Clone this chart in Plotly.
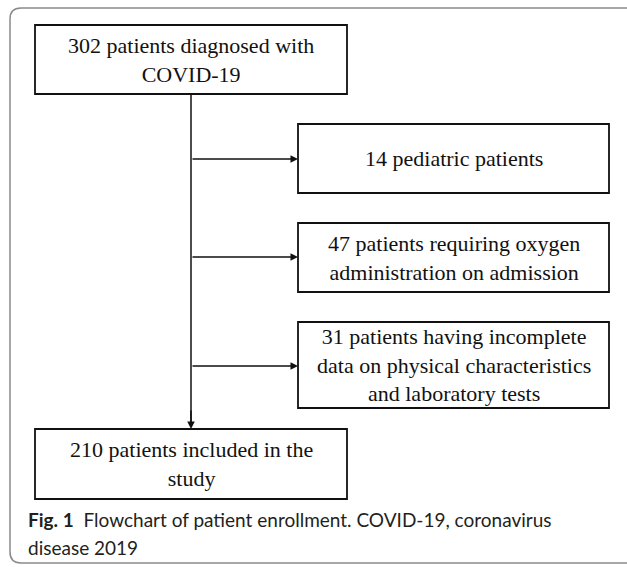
import plotly.graph_objects as go

# ---- data ----
counts = [302, 14, 47, 31, 210]
box_labels = [
    "302 patients diagnosed with<br>COVID-19",
    "14 pediatric patients",
    "47 patients requiring oxygen<br>administration on admission",
    "31 patients having incomplete<br>data on physical characteristics<br>and laboratory tests",
    "210 patients included in the<br>study",
]
caption_bold = "Fig. 1"
caption_lines = ["Flowchart of patient enrollment. COVID-19, coronavirus", "disease 2019"]

# ---- layout geometry (pixel space) ----
W, H = 627, 567
boxes = [  # x0, x1, y0, y1
    (35, 347, 25, 94),
    (298, 609, 124, 193),
    (298, 609, 223, 292),
    (298, 609, 322, 408),
    (35, 347, 429, 499),
]
spine_x = 191
arrow_y = [159, 257, 366]
caption_y = [519, 547]

fig = go.Figure()
fig.add_trace(go.Scatter(x=[0, W], y=[0, H], mode="markers",
                         marker=dict(opacity=0), hoverinfo="skip", showlegend=False))

shapes = []
# outer rounded frame
r = 11
fx0, fy0, fx1, fy1 = 10, 8, 640, 563
path = (f"M {fx0+r},{fy0} L {fx1},{fy0} L {fx1},{fy1} L {fx0+r},{fy1} "
        f"Q {fx0},{fy1} {fx0},{fy1-r} L {fx0},{fy0+r} Q {fx0},{fy0} {fx0+r},{fy0} Z")
shapes.append(dict(type="path", path=path, xref="x", yref="y",
                   line=dict(color="#8a8a8a", width=1.5)))
for (x0, x1, y0, y1) in boxes:
    shapes.append(dict(type="rect", xref="x", yref="y", x0=x0, x1=x1, y0=y0, y1=y1,
                       line=dict(color="#111", width=1.8)))
# vertical spine
shapes.append(dict(type="line", xref="x", yref="y", x0=spine_x, x1=spine_x,
                   y0=boxes[0][3], y1=boxes[4][2] - 6, line=dict(color="#111", width=1.5)))

annotations = []
for lab, (x0, x1, y0, y1) in zip(box_labels, boxes):
    annotations.append(dict(x=(x0 + x1) / 2, y=(y0 + y1) / 2, xref="x", yref="y",
                            text=lab, showarrow=False,
                            font=dict(family="Liberation Serif", size=22, color="#111")))
# horizontal arrows
for ay, b in zip(arrow_y, boxes[1:4]):
    annotations.append(dict(x=b[0], y=ay, ax=spine_x, ay=ay, xref="x", yref="y",
                            axref="x", ayref="y", text="", showarrow=True,
                            arrowhead=2, arrowsize=1, arrowwidth=1.5, arrowcolor="#111"))
# down arrow
annotations.append(dict(x=spine_x, y=boxes[4][2], ax=spine_x, ay=boxes[4][2] - 20,
                        xref="x", yref="y", axref="x", ayref="y", text="", showarrow=True,
                        arrowhead=2, arrowsize=1, arrowwidth=1.5, arrowcolor="#111"))
# caption
annotations.append(dict(x=26, y=caption_y[0], xref="x", yref="y", xanchor="left", yanchor="middle",
                        align="left", showarrow=False,
                        text=f"<b>{caption_bold}</b>  {caption_lines[0]}",
                        font=dict(family="Lato", size=19, color="#231f20")))
annotations.append(dict(x=26, y=caption_y[1], xref="x", yref="y", xanchor="left", yanchor="middle",
                        align="left", showarrow=False, text=caption_lines[1],
                        font=dict(family="Lato", size=19, color="#231f20")))

fig.update_layout(
    width=W, height=H, margin=dict(l=0, r=0, t=0, b=0),
    paper_bgcolor="white", plot_bgcolor="white",
    xaxis=dict(range=[0, W], visible=False, fixedrange=True),
    yaxis=dict(range=[H, 0], visible=False, fixedrange=True),
    shapes=shapes, annotations=annotations, showlegend=False,
)
fig.write_html("out.html", config=dict(displayModeBar=False),
               post_script="document.body.style.margin='0';document.body.style.overflow='hidden';")
